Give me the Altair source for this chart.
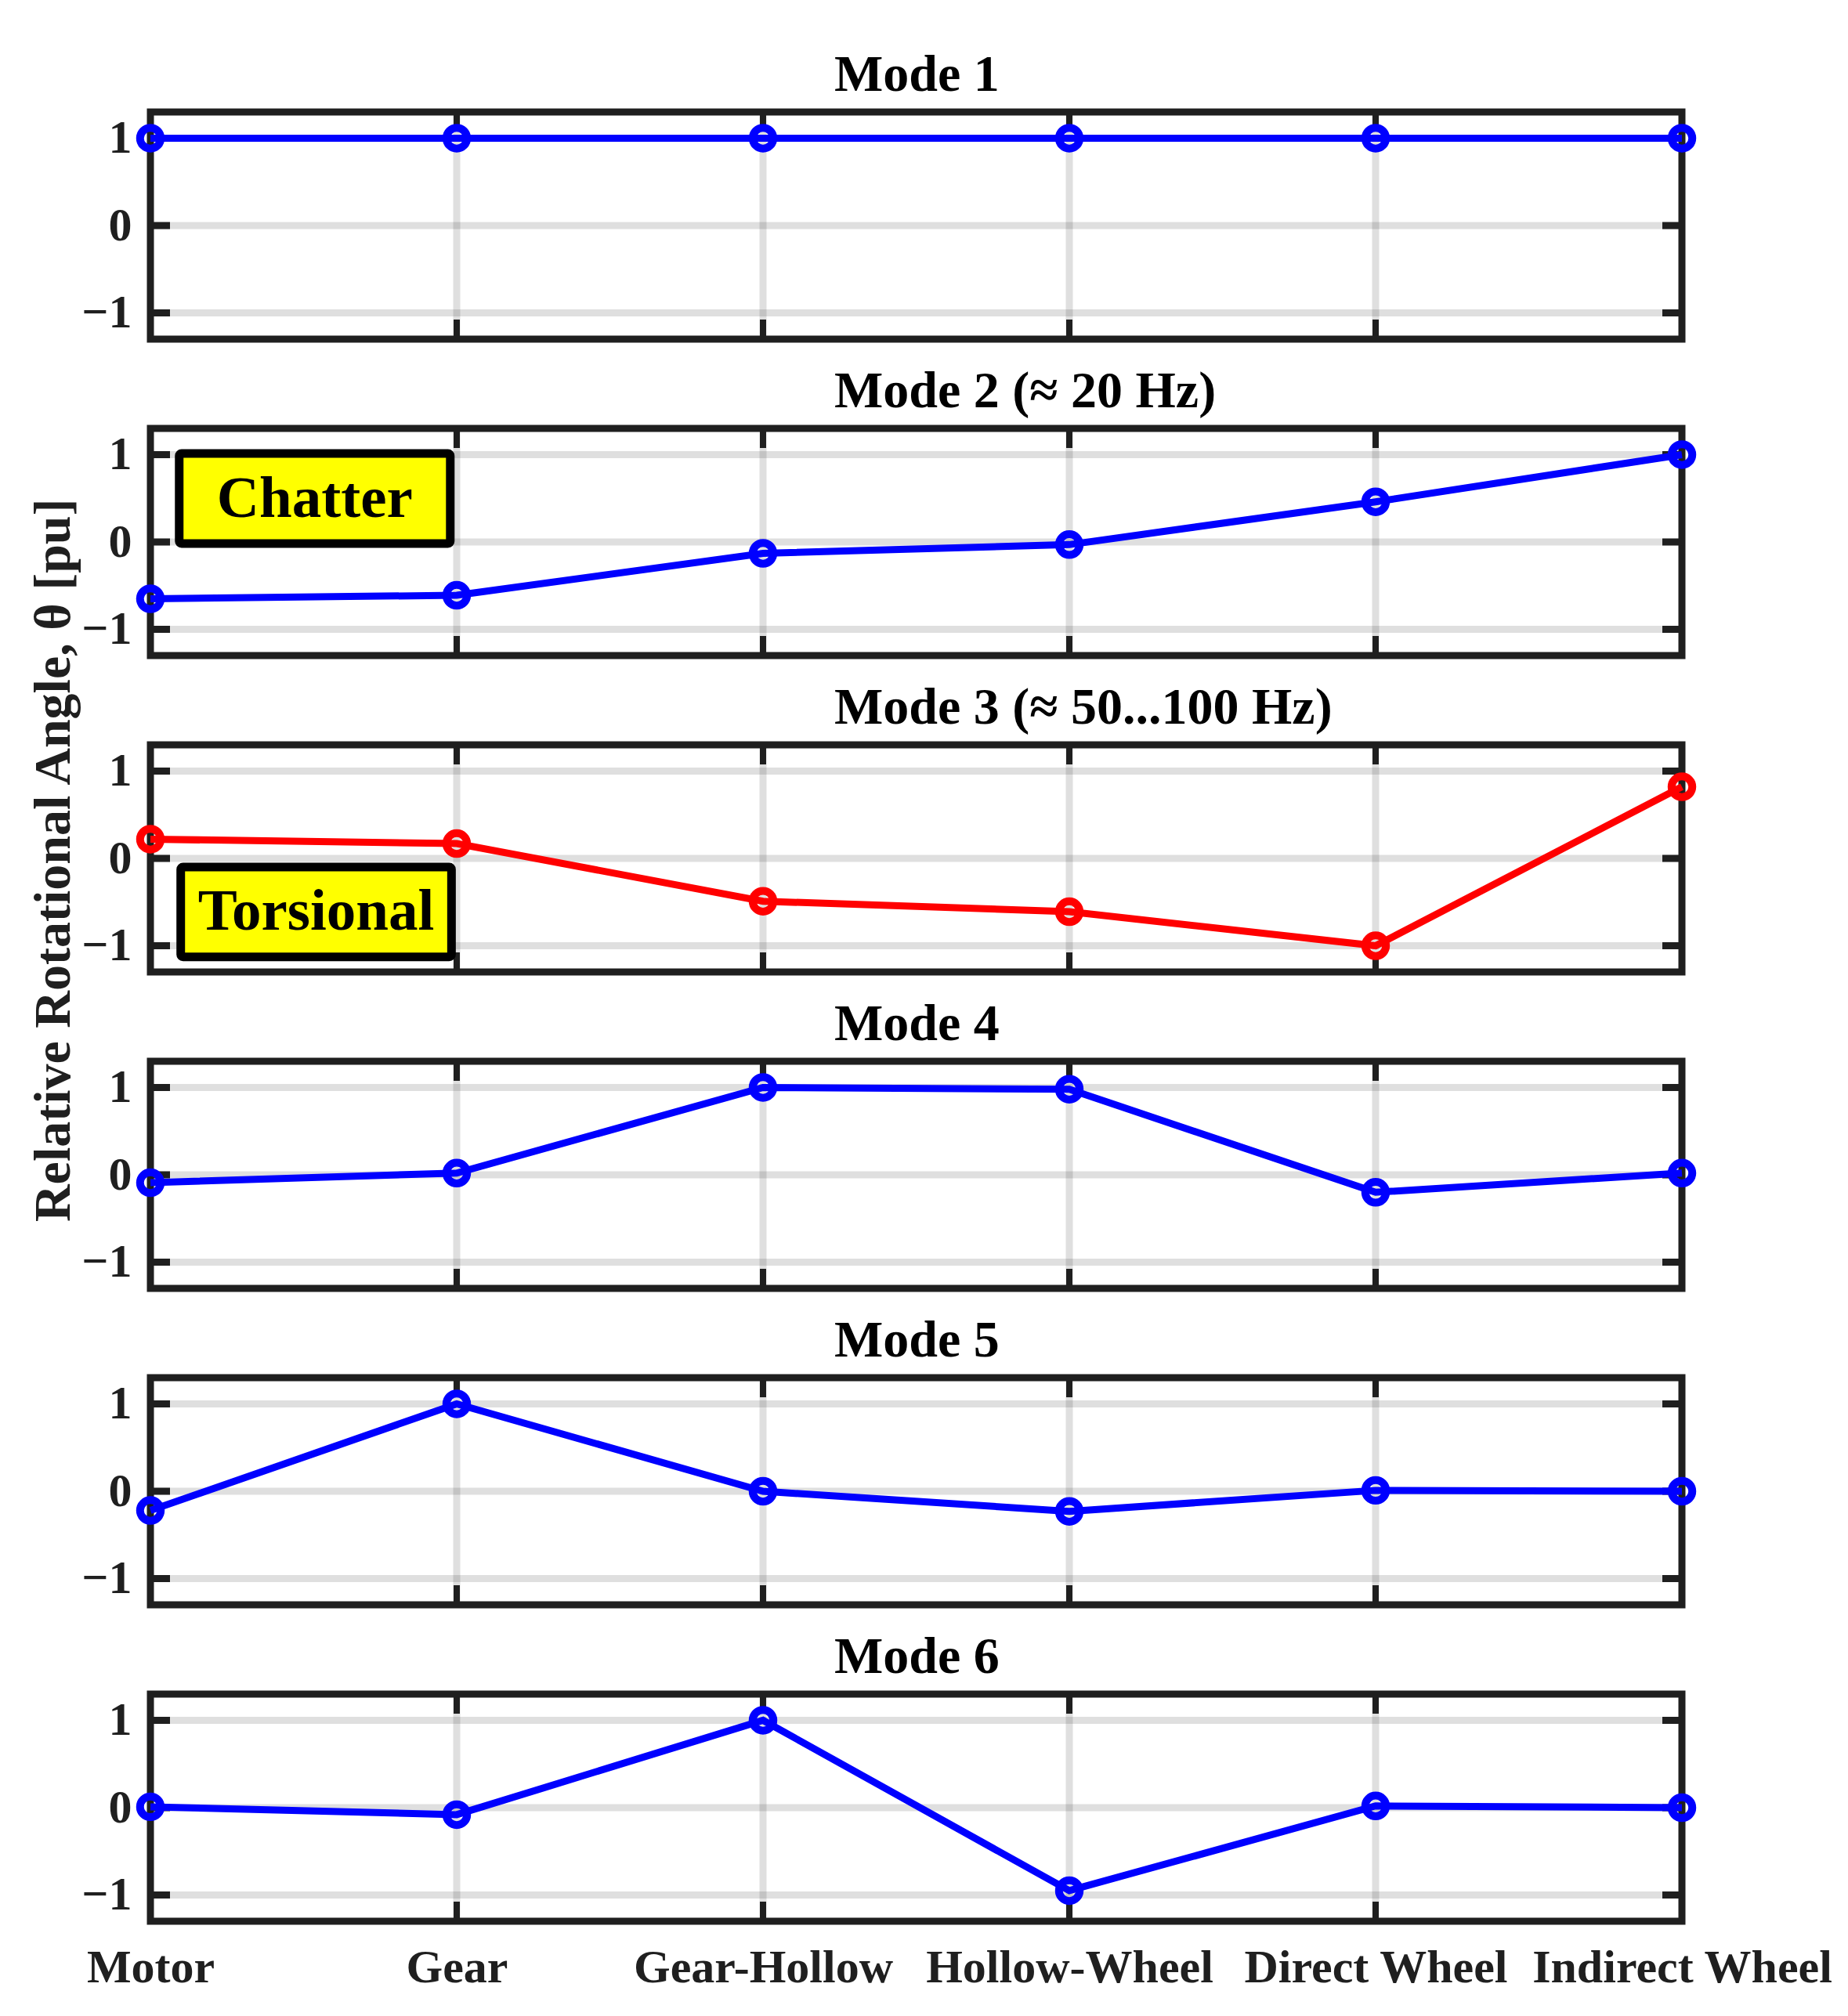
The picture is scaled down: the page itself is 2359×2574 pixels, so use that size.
import json
import altair as alt
import pandas as pd

# ---------------- data ----------------
COMPONENTS = ["Motor", "Gear", "Gear-Hollow", "Hollow-Wheel", "Direct Wheel", "Indirect Wheel"]
MODE_TITLES = ["Mode 1", "Mode 2 (≈ 20 Hz)", "Mode 3 (≈ 50...100 Hz)", "Mode 4", "Mode 5", "Mode 6"]

MODE1 = [1.0, 1.0, 1.0, 1.0, 1.0, 1.0]
MODE2 = [-0.65, -0.61, -0.13, -0.03, 0.46, 1.0]
MODE3 = [0.22, 0.17, -0.49, -0.61, -1.0, 0.82]
MODE4 = [-0.09, 0.02, 1.0, 0.98, -0.20, 0.02]
MODE5 = [-0.22, 1.0, 0.0, -0.23, 0.01, 0.0]
MODE6 = [0.01, -0.08, 1.0, -0.95, 0.02, 0.0]
MODE_VALUES = [MODE1, MODE2, MODE3, MODE4, MODE5, MODE6]
MODE_COLORS = ["#0000FF", "#0000FF", "#FF0000", "#0000FF", "#0000FF", "#0000FF"]

Y_DOMAIN = [-1.3, 1.3]
Y_TICKS = [-1, 0, 1]
Y_TITLE = "Relative Rotational Angle, θ [pu]"

# annotation boxes (panel index, text, x-range in component units, y-range in pu)
ANNOT_PANEL = [1, 2]
ANNOT_TEXT = ["Chatter", "Torsional"]
ANNOT_X0 = [0.094, 0.099]
ANNOT_X1 = [0.979, 0.983]
ANNOT_Y0 = [1.013, -0.098]
ANNOT_Y1 = [-0.018, -1.128]

# ---------------- style ----------------
FONT = "Liberation Serif"
FRAME = "#1f1f1f"
TEXT = "#1f1f1f"
W, H = 1955, 290

idx = list(range(len(COMPONENTS)))
x_scale = alt.Scale(domain=[idx[0], idx[-1]], nice=False, zero=False)
y_scale = alt.Scale(domain=Y_DOMAIN, nice=False, zero=False)
label_expr = json.dumps(COMPONENTS) + "[datum.value]"


def make_panel(i):
    if i == len(MODE_VALUES) - 1:
        x_axis = alt.Axis(values=idx, labelExpr=label_expr, labelFont=FONT, labelFontSize=60,
                          labelFontWeight="bold", labelColor=TEXT, labelPadding=30,
                          labelFlush=False, labelOverlap=False, labelBound=False, labelLimit=2000,
                          ticks=False, tickSize=0, domain=False, grid=False, title=None)
    else:
        x_axis = None
    y_axis = alt.Axis(values=Y_TICKS, labelFont=FONT, labelFontSize=60, labelFontWeight="bold",
                      labelColor=TEXT, labelPadding=24, ticks=False, tickSize=0, domain=False,
                      grid=False, labelFlush=False, labelOverlap=False, title=None)

    X = alt.X("idx:Q", scale=x_scale, axis=x_axis)
    Y = alt.Y("val:Q", scale=y_scale, axis=y_axis)

    grid_v = alt.Chart(pd.DataFrame({"idx": idx[1:-1]})).mark_rule(
        color="#262626", opacity=0.15, strokeWidth=9).encode(x=X)
    grid_h = alt.Chart(pd.DataFrame({"val": Y_TICKS})).mark_rule(
        color="#262626", opacity=0.15, strokeWidth=9).encode(y=Y)
    tick_x = alt.Chart(pd.DataFrame([{"idx": k, "val": e} for k in idx[1:-1] for e in Y_DOMAIN])).mark_tick(
        orient="vertical", size=50, thickness=8, color=FRAME, opacity=1, clip=True).encode(x=X, y=Y)
    tick_y = alt.Chart(pd.DataFrame([{"idx": k, "val": v} for k in (idx[0], idx[-1]) for v in Y_TICKS])).mark_tick(
        orient="horizontal", size=50, thickness=9, color=FRAME, opacity=1, clip=True).encode(x=X, y=Y)

    df = pd.DataFrame({"idx": idx, "val": MODE_VALUES[i]})
    col = MODE_COLORS[i]
    line = alt.Chart(df).mark_line(color=col, strokeWidth=9).encode(x=X, y=Y)
    pts = alt.Chart(df).mark_point(shape="circle", filled=False, size=700, strokeWidth=10,
                                   color=col, opacity=1).encode(x=X, y=Y)

    layers = [grid_v, grid_h, tick_x, tick_y, line, pts]
    if i in ANNOT_PANEL:
        k = ANNOT_PANEL.index(i)
        adf = pd.DataFrame({"idx": [ANNOT_X0[k]], "idx2": [ANNOT_X1[k]],
                            "val": [ANNOT_Y0[k]], "val2": [ANNOT_Y1[k]]})
        rect = alt.Chart(adf).mark_rect(fill="#FFFF00", stroke="#000000", strokeWidth=11,
                                        cornerRadius=3, opacity=1).encode(
            x=X, x2="idx2:Q", y=Y, y2="val2:Q")
        tdf = pd.DataFrame({"idx": [(ANNOT_X0[k] + ANNOT_X1[k]) / 2],
                            "val": [(ANNOT_Y0[k] + ANNOT_Y1[k]) / 2],
                            "label": [ANNOT_TEXT[k]]})
        txt = alt.Chart(tdf).mark_text(font=FONT, fontSize=75, fontWeight="bold", color="#000000",
                                       align="center", baseline="middle").encode(
            x=X, y=Y, text="label:N")
        layers += [rect, txt]

    return alt.layer(*layers).properties(
        width=W, height=H,
        title=alt.TitleParams(text=MODE_TITLES[i], font=FONT, fontSize=66, fontWeight="bold",
                              color="#000000", anchor="start", frame="group", dx=873, offset=9),
    )


panels = [make_panel(i) for i in range(len(MODE_VALUES))]
chart = alt.vconcat(*panels, spacing=114, bounds="flush").properties(
    title=alt.TitleParams(text=Y_TITLE, orient="left", anchor="middle", frame="bounds",
                          font=FONT, fontSize=66, fontWeight="bold", color=TEXT,
                          offset=-4, dx=204),
    padding={"left": 28, "top": 50, "right": 5, "bottom": 5},
).configure_view(stroke=FRAME, strokeWidth=9)

chart.save("out.html", embed_options={"renderer": "svg", "actions": False})
